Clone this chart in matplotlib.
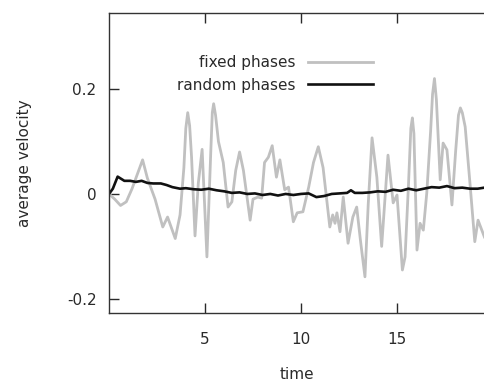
import matplotlib
matplotlib.use("Agg")
import matplotlib.pyplot as plt

plt.rcParams['font.family'] = ['DejaVu Sans']

# fixed phases (gray)
fixed_t = [0, 0.3, 0.6, 0.9, 1.2, 1.5, 1.75, 2.0, 2.4, 2.8, 3.05, 3.45, 3.7, 3.9, 4.0, 4.1,
           4.2, 4.3, 4.48, 4.65, 4.85, 5.1, 5.3, 5.38, 5.45, 5.55, 5.7, 5.95, 6.2, 6.4, 6.6,
           6.8, 7.0, 7.35, 7.5, 7.75, 7.95, 8.1, 8.3, 8.5, 8.72, 8.9, 9.15, 9.35, 9.6, 9.8,
           10.1, 10.4, 10.65, 10.9, 11.15, 11.5, 11.65, 11.77, 11.87, 12.03, 12.2, 12.45,
           12.7, 12.9, 13.1, 13.33, 13.5, 13.7, 13.95, 14.2, 14.53, 14.8, 15.0, 15.28,
           15.42, 15.6, 15.72, 15.8, 15.88, 16.04, 16.2, 16.37, 16.55, 16.75, 16.85, 16.95,
           17.05, 17.25, 17.4, 17.6, 17.86, 18.05, 18.2, 18.3, 18.4, 18.55, 18.8, 19.05,
           19.22, 19.55]
fixed_v = [0.0, -0.01, -0.022, -0.015, 0.01, 0.04, 0.065, 0.03, -0.01, -0.063, -0.044,
           -0.085, -0.04, 0.05, 0.125, 0.155, 0.13, 0.07, -0.08, 0.02, 0.085, -0.12, 0.08,
           0.155, 0.172, 0.15, 0.1, 0.06, -0.025, -0.015, 0.045, 0.08, 0.045, -0.05, -0.01,
           -0.006, -0.008, 0.06, 0.07, 0.092, 0.032, 0.065, 0.008, 0.013, -0.053, -0.036,
           -0.034, 0.013, 0.06, 0.09, 0.05, -0.063, -0.04, -0.056, -0.036, -0.072, -0.006,
           -0.094, -0.044, -0.025, -0.09, -0.158, -0.02, 0.107, 0.032, -0.1, 0.074, -0.017,
           -0.002, -0.145, -0.12, 0.02, 0.125, 0.145, 0.115, -0.107, -0.056, -0.069, 0.002,
           0.12, 0.19, 0.22, 0.18, 0.027, 0.097, 0.084, -0.021, 0.08, 0.15, 0.164, 0.155,
           0.128, 0.02, -0.091, -0.05, -0.082]

# random phases (black)
random_t = [0, 0.2, 0.45, 0.8, 1.1, 1.4, 1.7, 2.0, 2.3, 2.7, 3.0, 3.3, 3.7, 4.0, 4.4,
            4.8, 5.2, 5.6, 6.0, 6.4, 6.8, 7.2, 7.6, 8.0, 8.4, 8.8, 9.2, 9.6, 10.0, 10.4,
            10.8, 11.2, 11.6, 12.0, 12.4, 12.6, 12.8, 13.2, 13.6, 14.0, 14.4, 14.8, 15.2,
            15.6, 16.0, 16.4, 16.8, 17.2, 17.6, 18.0, 18.4, 18.8, 19.2, 19.55]
random_v = [0, 0.01, 0.033, 0.025, 0.025, 0.023, 0.025, 0.021, 0.02, 0.02, 0.017,
            0.013, 0.01, 0.011, 0.009, 0.008, 0.01, 0.007, 0.005, 0.002, 0.003, 0.0, 0.001,
            -0.002, 0.0, -0.003, 0.0, -0.002, 0.0, 0.001, -0.006, -0.004, 0.0, 0.001, 0.002,
            0.007, 0.002, 0.002, 0.003, 0.005, 0.004, 0.008, 0.006, 0.01, 0.007, 0.01, 0.013,
            0.012, 0.015, 0.011, 0.012, 0.01, 0.01, 0.012]

xticks = [5, 10, 15]
xticklabels = ["5", "10", "15"]
yticks = [-0.2, 0, 0.2]
yticklabels = ["-0.2", "0", "0.2"]

fig = plt.figure(figsize=(4.84, 3.83), dpi=100)
ax = fig.add_axes([109/484, 70/383, 375/484, 300/383])

ax.plot(fixed_t, fixed_v, color='#c0c0c0', lw=2.0, label='fixed phases', solid_joinstyle='round')
ax.plot(random_t, random_v, color='#111111', lw=1.9, label='random phases', solid_joinstyle='round')

ax.set_xlim(0, 19.53)
ax.set_ylim(-0.227, 0.345)
ax.set_xticks(xticks)
ax.set_xticklabels(xticklabels)
ax.set_yticks(yticks)
ax.set_yticklabels(yticklabels)

tc = '#2a2a2a'
ax.tick_params(axis='x', direction='in', length=7, width=1, top=True, bottom=True,
               pad=14, labelsize=11, colors=tc)
ax.tick_params(axis='y', direction='in', length=7, width=1, left=True, right=False,
               pad=9, labelsize=11, colors=tc)
for s in ['left', 'bottom', 'top']:
    ax.spines[s].set_color('#333333')
    ax.spines[s].set_linewidth(1.0)
ax.spines['right'].set_visible(False)

ax.set_xlabel('time', fontsize=11, color=tc, labelpad=14)
ax.set_ylabel('average velocity', fontsize=11, color=tc, labelpad=25)

leg = ax.legend(loc='upper right', bbox_to_anchor=(0.705, 0.86), frameon=False,
                markerfirst=False, handlelength=4.3, handletextpad=0.8,
                labelspacing=0.5, borderpad=0, borderaxespad=0, fontsize=11)
for t in leg.get_texts():
    t.set_color(tc)

fig.savefig('out.png', dpi=100)
